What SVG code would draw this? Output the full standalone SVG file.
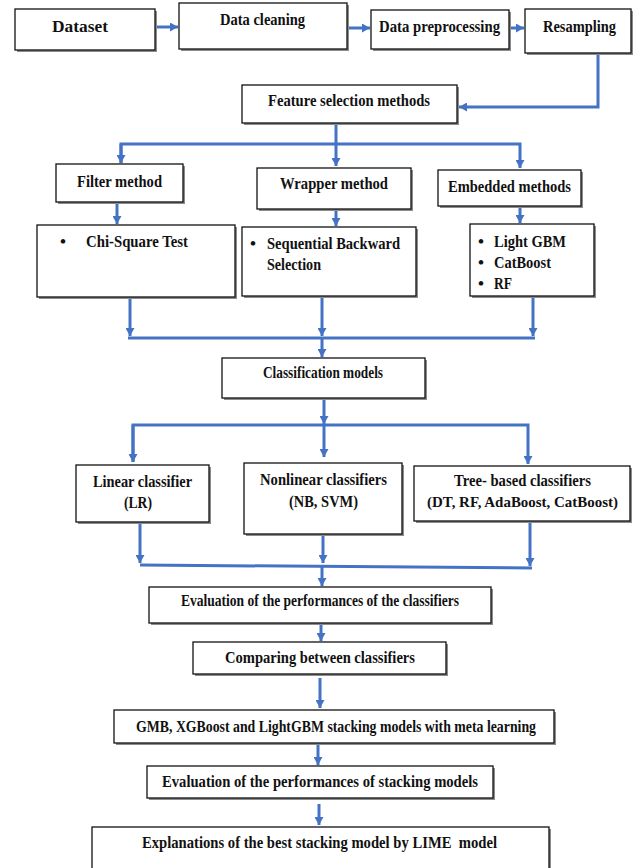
<svg xmlns="http://www.w3.org/2000/svg" width="635" height="868" viewBox="0 0 635 868">
<style>
.box{fill:#fff;stroke:#111;stroke-width:1.3}
.sh{fill:#8c8c8c}
.t{font-family:'Liberation Serif','DejaVu Serif',serif;font-weight:bold;font-size:17px;fill:#111}
.s{font-size:15px}
.c{stroke:#4472C4;stroke-width:3;fill:none}
</style>
<defs>
<marker id="ah" markerUnits="userSpaceOnUse" markerWidth="9" markerHeight="9" refX="8" refY="4.5" orient="auto">
<path d="M0,0 L8,4.5 L0,9 z" fill="#4472C4"/>
</marker>
</defs>
<rect width="635" height="868" fill="#fff"/>

<g id="connectors">
<line class="c" x1="156" y1="27" x2="178" y2="27" marker-end="url(#ah)"/>
<line class="c" x1="348" y1="28" x2="370" y2="28" marker-end="url(#ah)"/>
<line class="c" x1="510" y1="28" x2="524" y2="28" marker-end="url(#ah)"/>
<polyline class="c" points="598,54 598,107 459,107" marker-end="url(#ah)"/>

<line class="c" x1="336" y1="123" x2="336" y2="166" marker-end="url(#ah)"/>
<polyline class="c" points="121,163 121,144 520,144 520,168" marker-end="url(#ah)"/>
<line class="c" x1="121" y1="144" x2="121" y2="163" marker-end="url(#ah)"/>

<line class="c" x1="117" y1="203" x2="117" y2="224" marker-end="url(#ah)"/>
<line class="c" x1="336" y1="210" x2="336" y2="226" marker-end="url(#ah)"/>
<line class="c" x1="520" y1="207" x2="520" y2="223" marker-end="url(#ah)"/>

<line class="c" x1="130" y1="298" x2="130" y2="336" marker-end="url(#ah)"/>
<line class="c" x1="322" y1="297" x2="322" y2="336" marker-end="url(#ah)"/>
<line class="c" x1="533" y1="297" x2="533" y2="336" marker-end="url(#ah)"/>
<line class="c" x1="128" y1="338" x2="535" y2="338"/>
<line class="c" x1="322" y1="338" x2="322" y2="357" marker-end="url(#ah)"/>

<line class="c" x1="324" y1="399" x2="324" y2="424" marker-end="url(#ah)"/>
<polyline class="c" points="133,462 133,425 528,425 528,464" marker-end="url(#ah)"/>
<line class="c" x1="133" y1="425" x2="133" y2="462" marker-end="url(#ah)"/>
<line class="c" x1="324" y1="425" x2="324" y2="457" marker-end="url(#ah)"/>

<line class="c" x1="140" y1="523" x2="140" y2="563" marker-end="url(#ah)"/>
<line class="c" x1="323" y1="535" x2="323" y2="563" marker-end="url(#ah)"/>
<line class="c" x1="530" y1="522" x2="530" y2="566" marker-end="url(#ah)"/>
<line class="c" x1="140" y1="565" x2="532" y2="568"/>
<line class="c" x1="322" y1="567" x2="322" y2="586" marker-end="url(#ah)"/>

<line class="c" x1="321" y1="624" x2="321" y2="641" marker-end="url(#ah)"/>
<line class="c" x1="320" y1="678" x2="320" y2="708" marker-end="url(#ah)"/>
<line class="c" x1="318" y1="744" x2="318" y2="765" marker-end="url(#ah)"/>
<line class="c" x1="319" y1="804" x2="319" y2="825" marker-end="url(#ah)"/>
</g>

<g id="dataset">
<rect class="sh" x="17" y="11" width="140" height="41"/>
<rect class="box" x="15" y="9" width="140" height="41"/>
<text class="t" x="52" y="32" textLength="56" lengthAdjust="spacingAndGlyphs">Dataset</text>
</g>
<g id="data-cleaning">
<rect class="sh" x="181" y="5" width="168" height="46"/>
<rect class="box" x="179" y="3" width="168" height="46"/>
<text class="t" x="220" y="25" textLength="85" lengthAdjust="spacingAndGlyphs">Data cleaning</text>
</g>
<g id="data-preprocessing">
<rect class="sh" x="373" y="12" width="138" height="39"/>
<rect class="box" x="371" y="10" width="138" height="39"/>
<text class="t" x="379" y="32" textLength="121" lengthAdjust="spacingAndGlyphs">Data preprocessing</text>
</g>
<g id="resampling">
<rect class="sh" x="527" y="11" width="106" height="44"/>
<rect class="box" x="525" y="9" width="106" height="44"/>
<text class="t" x="543" y="32" textLength="73" lengthAdjust="spacingAndGlyphs">Resampling</text>
</g>
<g id="feature-selection">
<rect class="sh" x="244" y="87" width="215" height="38"/>
<rect class="box" x="242" y="85" width="215" height="38"/>
<text class="t" x="268" y="106" textLength="162" lengthAdjust="spacingAndGlyphs">Feature selection methods</text>
</g>

<g id="filter-method">
<rect class="sh" x="58" y="166" width="127" height="38"/>
<rect class="box" x="56" y="164" width="127" height="38"/>
<text class="t" x="77" y="187" textLength="85" lengthAdjust="spacingAndGlyphs">Filter method</text>
</g>
<g id="wrapper-method">
<rect class="sh" x="259" y="170" width="154" height="41"/>
<rect class="box" x="257" y="168" width="154" height="41"/>
<text class="t" x="280" y="189" textLength="108" lengthAdjust="spacingAndGlyphs">Wrapper method</text>
</g>
<g id="embedded-methods">
<rect class="sh" x="440" y="172" width="143" height="36"/>
<rect class="box" x="438" y="170" width="143" height="36"/>
<text class="t" x="448" y="192" textLength="123" lengthAdjust="spacingAndGlyphs">Embedded methods</text>
</g>

<g id="chi-square">
<rect class="sh" x="39" y="227" width="198" height="72"/>
<rect class="box" x="37" y="225" width="198" height="72"/>
<text class="t" x="60" y="247">•</text>
<text class="t" x="86" y="247" textLength="102" lengthAdjust="spacingAndGlyphs">Chi-Square Test</text>
</g>
<g id="sbs">
<rect class="sh" x="244" y="229" width="174" height="69"/>
<rect class="box" x="242" y="227" width="174" height="69"/>
<text class="t" x="250" y="249">•</text>
<text class="t" x="267" y="249" textLength="133" lengthAdjust="spacingAndGlyphs">Sequential Backward</text>
<text class="t" x="267" y="270" textLength="54" lengthAdjust="spacingAndGlyphs">Selection</text>
</g>
<g id="embedded-list">
<rect class="sh" x="472" y="226" width="124" height="72"/>
<rect class="box" x="470" y="224" width="124" height="72"/>
<text class="t" x="478" y="247">•</text>
<text class="t" x="494" y="247" textLength="72" lengthAdjust="spacingAndGlyphs">Light GBM</text>
<text class="t" x="478" y="268">•</text>
<text class="t" x="494" y="268" textLength="57" lengthAdjust="spacingAndGlyphs">CatBoost</text>
<text class="t" x="478" y="289">•</text>
<text class="t" x="494" y="289" textLength="18" lengthAdjust="spacingAndGlyphs">RF</text>
</g>

<g id="classification-models">
<rect class="sh" x="224" y="360" width="203" height="40"/>
<rect class="box" x="222" y="358" width="203" height="40"/>
<text class="t" x="263" y="378" textLength="120" lengthAdjust="spacingAndGlyphs">Classification models</text>
</g>

<g id="linear">
<rect class="sh" x="78" y="467" width="133" height="57"/>
<rect class="box" x="76" y="465" width="133" height="57"/>
<text class="t" x="93" y="487" textLength="99" lengthAdjust="spacingAndGlyphs">Linear classifier</text>
<text class="t" x="124" y="508" textLength="28" lengthAdjust="spacingAndGlyphs">(LR)</text>
</g>
<g id="nonlinear">
<rect class="sh" x="246" y="465" width="158" height="71"/>
<rect class="box" x="244" y="463" width="158" height="71"/>
<text class="t" x="260" y="485" textLength="127" lengthAdjust="spacingAndGlyphs">Nonlinear classifiers</text>
<text class="t" x="289" y="507" textLength="69" lengthAdjust="spacingAndGlyphs">(NB, SVM)</text>
</g>
<g id="tree-based">
<rect class="sh" x="416" y="468" width="216" height="55"/>
<rect class="box" x="414" y="466" width="216" height="55"/>
<text class="t" x="454" y="486" textLength="137" lengthAdjust="spacingAndGlyphs">Tree- based classifiers</text>
<text class="t s" x="427" y="507" textLength="191" lengthAdjust="spacingAndGlyphs">(DT, RF, AdaBoost, CatBoost)</text>
</g>

<g id="evaluation-classifiers">
<rect class="sh" x="151" y="589" width="342" height="36"/>
<rect class="box" x="149" y="587" width="342" height="36"/>
<text class="t" x="181" y="606" textLength="278" lengthAdjust="spacingAndGlyphs">Evaluation of the performances of the classifiers</text>
</g>
<g id="comparing">
<rect class="sh" x="195" y="644" width="253" height="32"/>
<rect class="box" x="193" y="642" width="253" height="32"/>
<text class="t" x="225" y="663" textLength="190" lengthAdjust="spacingAndGlyphs">Comparing between classifiers</text>
</g>
<g id="stacking">
<rect class="sh" x="116" y="712" width="440" height="33"/>
<rect class="box" x="114" y="710" width="440" height="33"/>
<text class="t" x="136" y="732" textLength="400" lengthAdjust="spacingAndGlyphs">GMB, XGBoost and LightGBM stacking models with meta learning</text>
</g>
<g id="evaluation-stacking">
<rect class="sh" x="149" y="768" width="346" height="32"/>
<rect class="box" x="147" y="766" width="346" height="32"/>
<text class="t" x="162" y="787" textLength="316" lengthAdjust="spacingAndGlyphs">Evaluation of the performances of stacking models</text>
</g>
<g id="explanations">
<rect class="sh" x="94" y="829" width="457" height="50"/>
<rect class="box" x="92" y="827" width="457" height="50"/>
<text class="t" x="142" y="848" textLength="355" lengthAdjust="spacingAndGlyphs">Explanations of the best stacking model by LIME&#160; model</text>
</g>
</svg>
